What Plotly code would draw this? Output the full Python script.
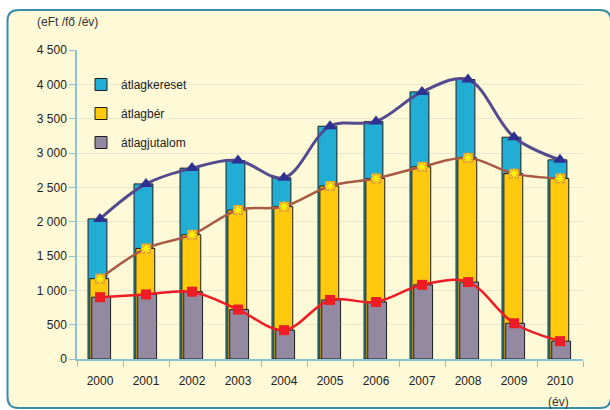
import plotly.graph_objects as go

years = ["2000", "2001", "2002", "2003", "2004", "2005", "2006", "2007", "2008", "2009", "2010"]
atlagkereset = [2040, 2550, 2780, 2890, 2640, 3390, 3460, 3890, 4070, 3230, 2900]
atlagber = [1170, 1610, 1810, 2170, 2220, 2520, 2630, 2800, 2930, 2700, 2630]
atlagjutalom = [900, 940, 980, 720, 420, 860, 830, 1080, 1120, 520, 260]
series_names = ["átlagkereset", "átlagbér", "átlagjutalom"]
y_ticks = [0, 500, 1000, 1500, 2000, 2500, 3000, 3500, 4000, 4500]

W, H = 610, 410
ML, MR, MT, MB = 77, 27, 50, 51
pw, ph = W - ML - MR, H - MT - MB

def px(x):
    return (x - ML) / pw

def py(y):
    return (H - MB - y) / ph

fig = go.Figure()

bar_colors = ["#22AED4", "#FFC90E", "#938AA1"]
offsets = [-0.26, -0.22, -0.18]
for i, (name, vals) in enumerate(zip(series_names, [atlagkereset, atlagber, atlagjutalom])):
    fig.add_trace(go.Bar(
        x=years, y=vals, name=name, width=0.41, offset=offsets[i],
        marker=dict(color=bar_colors[i], line=dict(color="#1F1F1F", width=1)),
        legendgroup=name,
    ))

fig.add_trace(go.Scatter(
    x=years, y=atlagkereset, mode="lines+markers", showlegend=False,
    line=dict(color="#544A8E", width=3, shape="spline", smoothing=1),
    marker=dict(symbol="triangle-up", size=12, color="#2E3192"),
))
fig.add_trace(go.Scatter(
    x=years, y=atlagber, mode="lines+markers", showlegend=False,
    line=dict(color="#A85A44", width=2.5, shape="spline", smoothing=1),
    marker=dict(symbol="square", size=10, color="#E09A3A"),
))
fig.add_trace(go.Scatter(
    x=years, y=atlagber, mode="markers", showlegend=False,
    marker=dict(symbol="asterisk-open", size=8, color="#FFF200", line=dict(width=1.5, color="#FFF200")),
))
fig.add_trace(go.Scatter(
    x=years, y=atlagjutalom, mode="lines+markers", showlegend=False,
    line=dict(color="#EE1C25", width=2.5, shape="spline", smoothing=1),
    marker=dict(symbol="square", size=10, color="#EE1C25"),
))

# rounded frame
L, T, R, B = 7.5, 10, 611, 408
r = 11
rx, ry = r / pw, r / ph
path = (
    f"M {px(L)+rx},{py(T)} L {px(R)-rx},{py(T)} Q {px(R)},{py(T)} {px(R)},{py(T)-ry} "
    f"L {px(R)},{py(B)+ry} Q {px(R)},{py(B)} {px(R)-rx},{py(B)} "
    f"L {px(L)+rx},{py(B)} Q {px(L)},{py(B)} {px(L)},{py(B)+ry} "
    f"L {px(L)},{py(T)-ry} Q {px(L)},{py(T)} {px(L)+rx},{py(T)} Z"
)
fig.add_shape(type="path", path=path, xref="paper", yref="paper", layer="below",
              fillcolor="#FEF9D6", line=dict(color="#3A8EA8", width=2))

fig.add_annotation(text="(eFt /fő /év)", x=px(35), y=py(22), xref="paper", yref="paper",
                   xanchor="left", yanchor="middle", showarrow=False,
                   font=dict(size=12, color="#333333"))
fig.add_annotation(text="(év)", x=px(558), y=py(402), xref="paper", yref="paper",
                   xanchor="center", yanchor="middle", showarrow=False,
                   font=dict(size=12, color="#333333"))

fig.update_layout(
    width=W, height=H,
    margin=dict(l=ML, r=MR, t=MT, b=MB),
    paper_bgcolor="white", plot_bgcolor="rgba(0,0,0,0)",
    barmode="overlay",
    separators=", ",
    font=dict(family="Liberation Sans, Arial, sans-serif", size=12, color="#222222"),
    showlegend=True,
    legend=dict(x=px(81), y=py(70), xanchor="left", yanchor="top",
                bgcolor="rgba(0,0,0,0)", tracegroupgap=10,
                font=dict(size=12, color="#222222"), itemwidth=30),
)
fig.update_xaxes(
    type="category", showgrid=False, showline=True, linecolor="#8CC3D4", linewidth=1.5,
    ticks="outside", tickson="boundaries", ticklen=6, tickcolor="#8CC3D4",
    ticklabelstandoff=10, range=[-0.5, 10.5],
)
fig.update_yaxes(
    range=[0, 4500], tickvals=y_ticks, tickformat=",d", showgrid=True, gridcolor="#ECE6CC",
    showline=True, linecolor="#8CC3D4", linewidth=1.5, ticks="outside", ticklen=6,
    tickcolor="#8CC3D4", zeroline=False,
)

fig.write_html("out.html", config={"displayModeBar": False},
               post_script="document.body.style.margin='0';")
